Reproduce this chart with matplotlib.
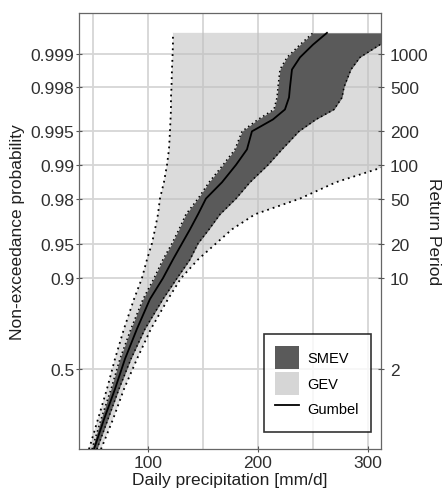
import numpy as np
import matplotlib
matplotlib.use('Agg')
import matplotlib.pyplot as plt
from matplotlib.patches import Patch
from matplotlib.lines import Line2D

plt.rcParams['font.family'] = ['Liberation Sans', 'DejaVu Sans']

# non-exceedance probability levels at which the curves were read
prob = [0.026, 0.14, 0.35, 0.57, 0.74, 0.85, 0.9, 0.931, 0.95, 0.9625, 0.9724,
        0.98, 0.9857, 0.99, 0.99274, 0.995, 0.99609, 0.99682, 0.99752, 0.998,
        0.99861, 0.99892, 0.99917, 0.99935]

# daily precipitation [mm/d]
gev_lo = [46.4, 54.5, 62.7, 70.0, 78.2, 87.3, 94.5, 99.1, 103.6, 106.4, 109.1,
          110.9, 114.5, 117.3, 119.1, 120.0, 120.5, 120.9, 120.9, 121.4,
          121.8, 122.3, 122.7, 122.7]
gev_hi = [57.3, 68.2, 78.2, 90.0, 102.7, 118.2, 130.0, 145.5, 161.8, 176.4, 197.3,
          238.2, 270.9, 320.0, 365.5, 420.0, 456.0, 493.0, 529.0, 556.0,
          620.0, 656.0, 693.0, 738.0]
smev_lo = [49.1, 57.3, 66.4, 74.5, 84.5, 95.5, 105.5, 113.6, 121.8, 128.2, 134.5,
           145.5, 155.5, 168.2, 179.1, 185.5, 200.0, 214.5, 217.3, 218.2,
           220.0, 226.4, 238.2, 250.0]
smev_hi = [53.6, 63.6, 73.6, 84.5, 97.3, 113.6, 126.4, 138.2, 145.5, 155.5, 165.5,
           180.0, 192.7, 209.1, 221.8, 237.3, 252.7, 269.1, 276.4, 278.2,
           284.5, 292.7, 310.9, 329.1]
gumbel = [50.9, 60.0, 70.0, 79.1, 90.0, 101.8, 113.6, 122.7, 130.9, 138.2, 145.5,
          152.7, 167.3, 180.0, 190.0, 194.5, 213.6, 224.5, 228.2, 229.1,
          230.9, 238.2, 250.0, 262.7]

prob_ticks = [0.5, 0.9, 0.95, 0.98, 0.99, 0.995, 0.998, 0.999]
prob_labels = ['0.5', '0.9', '0.95', '0.98', '0.99', '0.995', '0.998', '0.999']
return_periods = [2, 10, 20, 50, 100, 200, 500, 1000]


def gumbel_var(p):
    return -np.log(-np.log(np.asarray(p, dtype=float)))


yy = gumbel_var(prob)

fig = plt.figure(figsize=(4.46, 4.89), dpi=100)
ax = fig.add_axes([0.1771, 0.0798, 0.6771, 0.8916])

ax.fill_betweenx(yy, gev_lo, gev_hi, color='#bebebe', alpha=0.55, lw=0, zorder=2)
ax.plot(gev_lo, yy, color='black', lw=1.3, ls=(0, (1, 2.2)), zorder=3)
ax.plot(gev_hi, yy, color='black', lw=1.3, ls=(0, (1, 2.2)), zorder=3)
ax.fill_betweenx(yy, smev_lo, smev_hi, color='#5a5a5a', lw=0, zorder=4)
ax.plot(smev_lo, yy, color='black', lw=1.1, ls=(0, (1, 2)), zorder=5)
ax.plot(smev_hi, yy, color='black', lw=1.1, ls=(0, (1, 2)), zorder=5)
ax.plot(gumbel, yy, color='black', lw=1.3, zorder=6)

ax.set_xlim(37.3, 311.8)
ylim = (-1.29, 7.75)
ax.set_ylim(ylim)

ax.set_xticks([100, 200, 300])
ax.set_xticks([50, 150, 250], minor=True)
ax.set_yticks(gumbel_var(prob_ticks))
ax.set_yticklabels(prob_labels)
ax.grid(True, which='both', color='#d6d6d6', lw=1.3, zorder=1)
ax.set_axisbelow(True)

ax.tick_params(axis='both', which='major', labelsize=12.5, colors='#555555',
               labelcolor='#303030', direction='inout', length=5, width=0.8)
ax.tick_params(axis='y', pad=1)
ax.tick_params(axis='x', pad=2)
ax.tick_params(which='minor', length=0)
for sp in ax.spines.values():
    sp.set_color('#666666')
    sp.set_linewidth(0.9)

ax.set_xlabel('Daily precipitation [mm/d]', fontsize=12.5, color='#202020', labelpad=1)
ax.set_ylabel('Non-exceedance probability', fontsize=12.5, color='#202020', labelpad=4)

ax2 = ax.twinx()
ax2.set_ylim(ylim)
ax2.set_yticks(gumbel_var([1 - 1 / t for t in return_periods]))
ax2.set_yticklabels([str(t) for t in return_periods])
ax2.tick_params(axis='y', labelsize=12.5, colors='#555555', labelcolor='#303030',
                direction='inout', length=5, width=0.8, pad=4)
for sp in ax2.spines.values():
    sp.set_visible(False)
ax2.set_ylabel('Return Period', fontsize=12.5, color='#202020', rotation=270,
               labelpad=9)

handles = [Patch(facecolor='#5a5a5a', edgecolor='none', label='SMEV'),
           Patch(facecolor='#d6d6d6', edgecolor='none', label='GEV'),
           Line2D([], [], color='black', lw=1.3, label='Gumbel')]
leg = ax.legend(handles=handles, loc='lower right', bbox_to_anchor=(0.967, 0.039),
                fontsize=10.5, frameon=True, fancybox=False, edgecolor='black',
                handlelength=1.6, handleheight=2.05, labelspacing=0.17,
                borderpad=0.82, handletextpad=0.6, borderaxespad=0)
leg.get_frame().set_linewidth(1.2)
leg.set_zorder(10)

fig.savefig('out.png', dpi=100)
